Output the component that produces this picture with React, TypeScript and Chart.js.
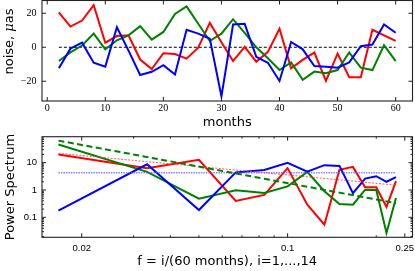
import React, { useEffect, useRef } from 'react';
import { Chart, registerables } from 'chart.js';

Chart.register(...registerables);

// ---------- top panel data ----------
const MONTHS = [2, 4, 6, 8, 10, 12, 14, 16, 18, 20, 22, 24, 26, 28, 30, 32, 34, 36, 38, 40, 42, 44, 46, 48, 50, 52, 54, 56, 58, 60];
const NOISE_RED = [20.5, 12.2, 15.7, 24.8, 2.7, 6.6, 7, -7.2, -12.8, -3.5, -4.0, -6.7, -0.3, 14.3, 3, -8.1, 0.2, -8.5, -2.7, 10.9, -12.4, -7.4, -3.1, -19.8, -3.7, -17.6, -17.6, 10.3, 7, 3.7];
const NOISE_GREEN = [-8.1, -3, 1, 8, -1.2, 4.1, 7, 12.4, 4.5, 9, 19.6, 24, 13.8, 3.7, 8, 16.5, 8.5, 0, -6.5, -13.4, -8.9, -19.2, -14.3, -15.3, -13.4, -3.1, -12, -13.4, 1.2, -8.1];
const NOISE_BLUE = [-12.4, -0.8, 2.7, -9.1, -11.4, 11.8, -2, -16.3, -14.4, -10.5, -16, 10.3, 8, 5, -28.9, 13.4, 13.8, -5.6, -9.1, -19.8, 3.1, -1.2, -11, -11.4, -12, -8.9, 0.6, 1.6, 13.4, 8.5];
const ZERO_LINE_X = [2, 60];
const TOP_X_TICKS = [0, 10, 20, 30, 40, 50, 60];
const TOP_X_TICK_LABELS = ['0', '10', '20', '30', '40', '50', '60'];
const TOP_Y_TICKS = [-20, 0, 20];
const TOP_Y_TICK_LABELS = ['\u221220', '0', '20'];
const TOP_Y_LABEL_PARTS = ['noise, ', '\u03bc', 'as'];
const TOP_X_LABEL = 'months';

// ---------- bottom panel data ----------
const FREQ_INDEX = [1, 2, 3, 4, 5, 6, 7, 8, 9, 10, 11, 12, 13, 14];
const PS_RED = [20, 6.3, 12.7, 0.4, 0.66, 6.3, 0.29, 0.054, 5.5, 7.0, 1.25, 1.25, 0.24, 2.1];
const PS_GREEN = [46, 4.6, 0.48, 0.97, 0.78, 1.36, 4.6, 0.9, 0.31, 0.29, 1.03, 1.0, 0.027, 0.51];
const PS_BLUE = [0.175, 8.7, 0.185, 4.4, 5.4, 9.8, 4.7, 8.1, 7.6, 0.76, 2.6, 3.2, 2.0, 2.95];
const FIT_GREEN = [64, 0.33];
const FIT_RED = [22, 1.5];
const FIT_BLUE = [4.3, 4.3];
const PS_X_TICKS = [0.02, 0.1, 0.25];
const PS_X_TICK_LABELS = ['0.02', '0.1', '0.25'];
const PS_X_MINOR = [0.03, 0.04, 0.05, 0.06, 0.07, 0.08, 0.09, 0.2];
const PS_Y_TICKS = [0.1, 1, 10];
const PS_Y_TICK_LABELS = ['0.1', '1', '10'];
const PS_Y_LABEL = 'Power Spectrum';
const PS_X_LABEL = 'f = i/(60 months), i=1,...,14';

const FREQ = FREQ_INDEX.map((i) => i / 60);
const PS_Y_MINOR: number[] = [];
[0.01, 0.1, 1, 10].forEach((d) => {
  for (let m = 2; m <= 9; m++) PS_Y_MINOR.push(+(m * d).toPrecision(3));
});

const frameTicks = {
  id: 'frameTicks',
  afterDatasetsDraw(chart: any, _args: any, opts: any) {
    const { ctx, chartArea: a } = chart;
    const xs = chart.scales.x;
    const ys = chart.scales.y;
    ctx.save();
    ctx.strokeStyle = '#222';
    ctx.lineWidth = 1;
    const seg = (x1: number, y1: number, x2: number, y2: number) => {
      ctx.beginPath();
      ctx.moveTo(x1, y1);
      ctx.lineTo(x2, y2);
      ctx.stroke();
    };
    const drawX = (vals: number[], len: number) =>
      vals.forEach((v) => {
        const p = xs.getPixelForValue(v);
        if (p < a.left || p > a.right) return;
        seg(p, a.bottom, p, a.bottom - len);
        seg(p, a.top, p, a.top + len);
      });
    const drawY = (vals: number[], len: number) =>
      vals.forEach((v) => {
        const p = ys.getPixelForValue(v);
        if (p < a.top || p > a.bottom) return;
        seg(a.left, p, a.left + len, p);
        seg(a.right, p, a.right - len, p);
      });
    drawX(opts.xMajor || [], 4);
    drawX(opts.xMinor || [], 2);
    drawY(opts.yMajor || [], 4);
    drawY(opts.yMinor || [], 2);
    ctx.lineWidth = 1.1;
    ctx.strokeRect(a.left, a.top, a.right - a.left, a.bottom - a.top);
    ctx.restore();
  },
};

const noiseLabel = {
  id: 'noiseLabel',
  afterDraw(chart: any, _args: any, opts: any) {
    const ctx = chart.ctx;
    const fonts = ['13px "DejaVu Sans"', 'italic 13px "DejaVu Serif"', '13px "DejaVu Sans"'];
    ctx.save();
    ctx.translate(opts.x, opts.y);
    ctx.rotate(-Math.PI / 2);
    ctx.fillStyle = '#000';
    ctx.textBaseline = 'middle';
    ctx.textAlign = 'left';
    const widths = TOP_Y_LABEL_PARTS.map((t, i) => {
      ctx.font = fonts[i];
      return ctx.measureText(t).width;
    });
    let x = -widths.reduce((s, w) => s + w, 0) / 2;
    TOP_Y_LABEL_PARTS.forEach((t, i) => {
      ctx.font = fonts[i];
      ctx.fillText(t, x, 0);
      x += widths[i];
    });
    ctx.restore();
  },
};

const line = (label: string, data: any[], color: string, width: number, dash: number[] = []) => ({
  label,
  data,
  borderColor: color,
  backgroundColor: color,
  borderWidth: width,
  borderDash: dash,
  pointRadius: 0,
  pointHoverRadius: 0,
  fill: false,
  tension: 0,
});

const fixX = (h: number) => (s: any) => {
  s.height = h;
  s.paddingLeft = 0;
  s.paddingRight = 0;
  s.paddingTop = 0;
  s.paddingBottom = 0;
};
const fixY = (w: number) => (s: any) => {
  s.width = w;
  s.paddingLeft = 0;
  s.paddingRight = 0;
  s.paddingTop = 0;
  s.paddingBottom = 0;
};

export default function App() {
  const topRef = useRef<HTMLCanvasElement>(null);
  const botRef = useRef<HTMLCanvasElement>(null);

  useEffect(() => {
    const titleFont = { family: '"DejaVu Sans"', size: 13 };
    const noGrid = { display: false, drawTicks: false, tickLength: 0 };
    const top = new Chart(topRef.current as HTMLCanvasElement, {
      type: 'line',
      data: {
        datasets: [
          line('blue', MONTHS.map((m, i) => ({ x: m, y: NOISE_BLUE[i] })), '#0000ff', 2),
          line('green', MONTHS.map((m, i) => ({ x: m, y: NOISE_GREEN[i] })), '#008000', 2),
          line('red', MONTHS.map((m, i) => ({ x: m, y: NOISE_RED[i] })), '#ff0000', 2),
          line('zero', ZERO_LINE_X.map((m) => ({ x: m, y: 0 })), '#000000', 1, [3, 2]),
        ] as any,
      },
      options: {
        animation: false,
        responsive: false,
        devicePixelRatio: 1,
        layout: { padding: { left: 0, right: 2.5, top: 0.5, bottom: 0 } },
        plugins: {
          legend: { display: false },
          tooltip: { enabled: false },
          frameTicks: { xMajor: TOP_X_TICKS, yMajor: TOP_Y_TICKS },
          noiseLabel: { x: 9.5, y: 41.5 },
        } as any,
        scales: {
          x: {
            type: 'linear',
            bounds: 'data',
            min: -0.9,
            max: 62.9,
            grid: noGrid,
            border: { display: false },
            afterBuildTicks: (s: any) => { s.ticks = TOP_X_TICKS.map((v) => ({ value: v })); },
            afterFit: fixX(34),
            ticks: {
              font: { family: '"Liberation Serif"', size: 10 },
              color: '#000',
              padding: 1,
              maxRotation: 0,
              autoSkip: false,
              callback: (_v: any, i: number) => TOP_X_TICK_LABELS[i],
            },
            title: { display: true, text: TOP_X_LABEL, font: titleFont, color: '#000', padding: { top: 0, bottom: 4.2 } },
          },
          y: {
            type: 'linear',
            bounds: 'data',
            min: -31.6,
            max: 27.5,
            grid: noGrid,
            border: { display: false },
            afterBuildTicks: (s: any) => { s.ticks = TOP_Y_TICKS.map((v) => ({ value: v })); },
            afterFit: fixY(42),
            ticks: {
              font: { family: '"Liberation Serif"', size: 10 },
              color: '#000',
              padding: 5.5,
              autoSkip: false,
              callback: (_v: any, i: number) => TOP_Y_TICK_LABELS[i],
            },
          },
        } as any,
      },
      plugins: [frameTicks, noiseLabel] as any,
    });

    const fitX = [FREQ[0], FREQ[FREQ.length - 1]];
    const bot = new Chart(botRef.current as HTMLCanvasElement, {
      type: 'line',
      data: {
        datasets: [
          line('green fit', fitX.map((x, i) => ({ x, y: FIT_GREEN[i] })), '#008000', 2, [6, 3.5]),
          line('red fit', fitX.map((x, i) => ({ x, y: FIT_RED[i] })), 'rgba(255,60,60,0.85)', 1, [2, 1.5]),
          line('blue fit', fitX.map((x, i) => ({ x, y: FIT_BLUE[i] })), 'rgba(90,90,255,0.75)', 1.5, [1.5, 1]),
          line('blue', FREQ.map((x, i) => ({ x, y: PS_BLUE[i] })), '#0000ff', 2),
          line('green', FREQ.map((x, i) => ({ x, y: PS_GREEN[i] })), '#008000', 2),
          line('red', FREQ.map((x, i) => ({ x, y: PS_RED[i] })), '#ff0000', 2),
        ] as any,
      },
      options: {
        animation: false,
        responsive: false,
        devicePixelRatio: 1,
        layout: { padding: { left: 0, right: 2.5, top: 1.7, bottom: 0 } },
        plugins: {
          legend: { display: false },
          tooltip: { enabled: false },
          frameTicks: { xMajor: PS_X_TICKS, xMinor: PS_X_MINOR, yMajor: PS_Y_TICKS, yMinor: PS_Y_MINOR },
        } as any,
        scales: {
          x: {
            type: 'logarithmic',
            bounds: 'data',
            min: 0.01466,
            max: 0.2655,
            grid: noGrid,
            border: { display: false },
            afterBuildTicks: (s: any) => { s.ticks = PS_X_TICKS.map((v) => ({ value: v })); },
            afterFit: fixX(33.7),
            ticks: {
              font: { family: '"Liberation Sans"', size: 9.5 },
              color: '#000',
              padding: 5,
              maxRotation: 0,
              autoSkip: false,
              callback: (_v: any, i: number) => PS_X_TICK_LABELS[i],
            },
            title: { display: true, text: PS_X_LABEL, font: titleFont, color: '#000', padding: { top: 0, bottom: 1.2 } },
          },
          y: {
            type: 'logarithmic',
            bounds: 'data',
            min: 0.0186,
            max: 89,
            grid: noGrid,
            border: { display: false },
            afterBuildTicks: (s: any) => { s.ticks = PS_Y_TICKS.map((v) => ({ value: v })); },
            afterFit: fixY(42),
            ticks: {
              font: { family: '"Liberation Sans"', size: 9.5 },
              color: '#000',
              padding: 5,
              autoSkip: false,
              callback: (_v: any, i: number) => PS_Y_TICK_LABELS[i],
            },
            title: { display: true, text: PS_Y_LABEL, font: titleFont, color: '#000', padding: { top: 3, bottom: 0 } },
          },
        } as any,
      },
      plugins: [frameTicks] as any,
    });

    return () => {
      top.destroy();
      bot.destroy();
    };
  }, []);

  return (
    <div style={{ position: 'absolute', left: 0, top: 0, width: 415, height: 271, background: '#fff' }}>
      <canvas ref={topRef} width={415} height={135} style={{ position: 'absolute', left: 0, top: 0, width: 415, height: 135 }} />
      <canvas ref={botRef} width={415} height={136} style={{ position: 'absolute', left: 0, top: 135, width: 415, height: 136 }} />
    </div>
  );
}
